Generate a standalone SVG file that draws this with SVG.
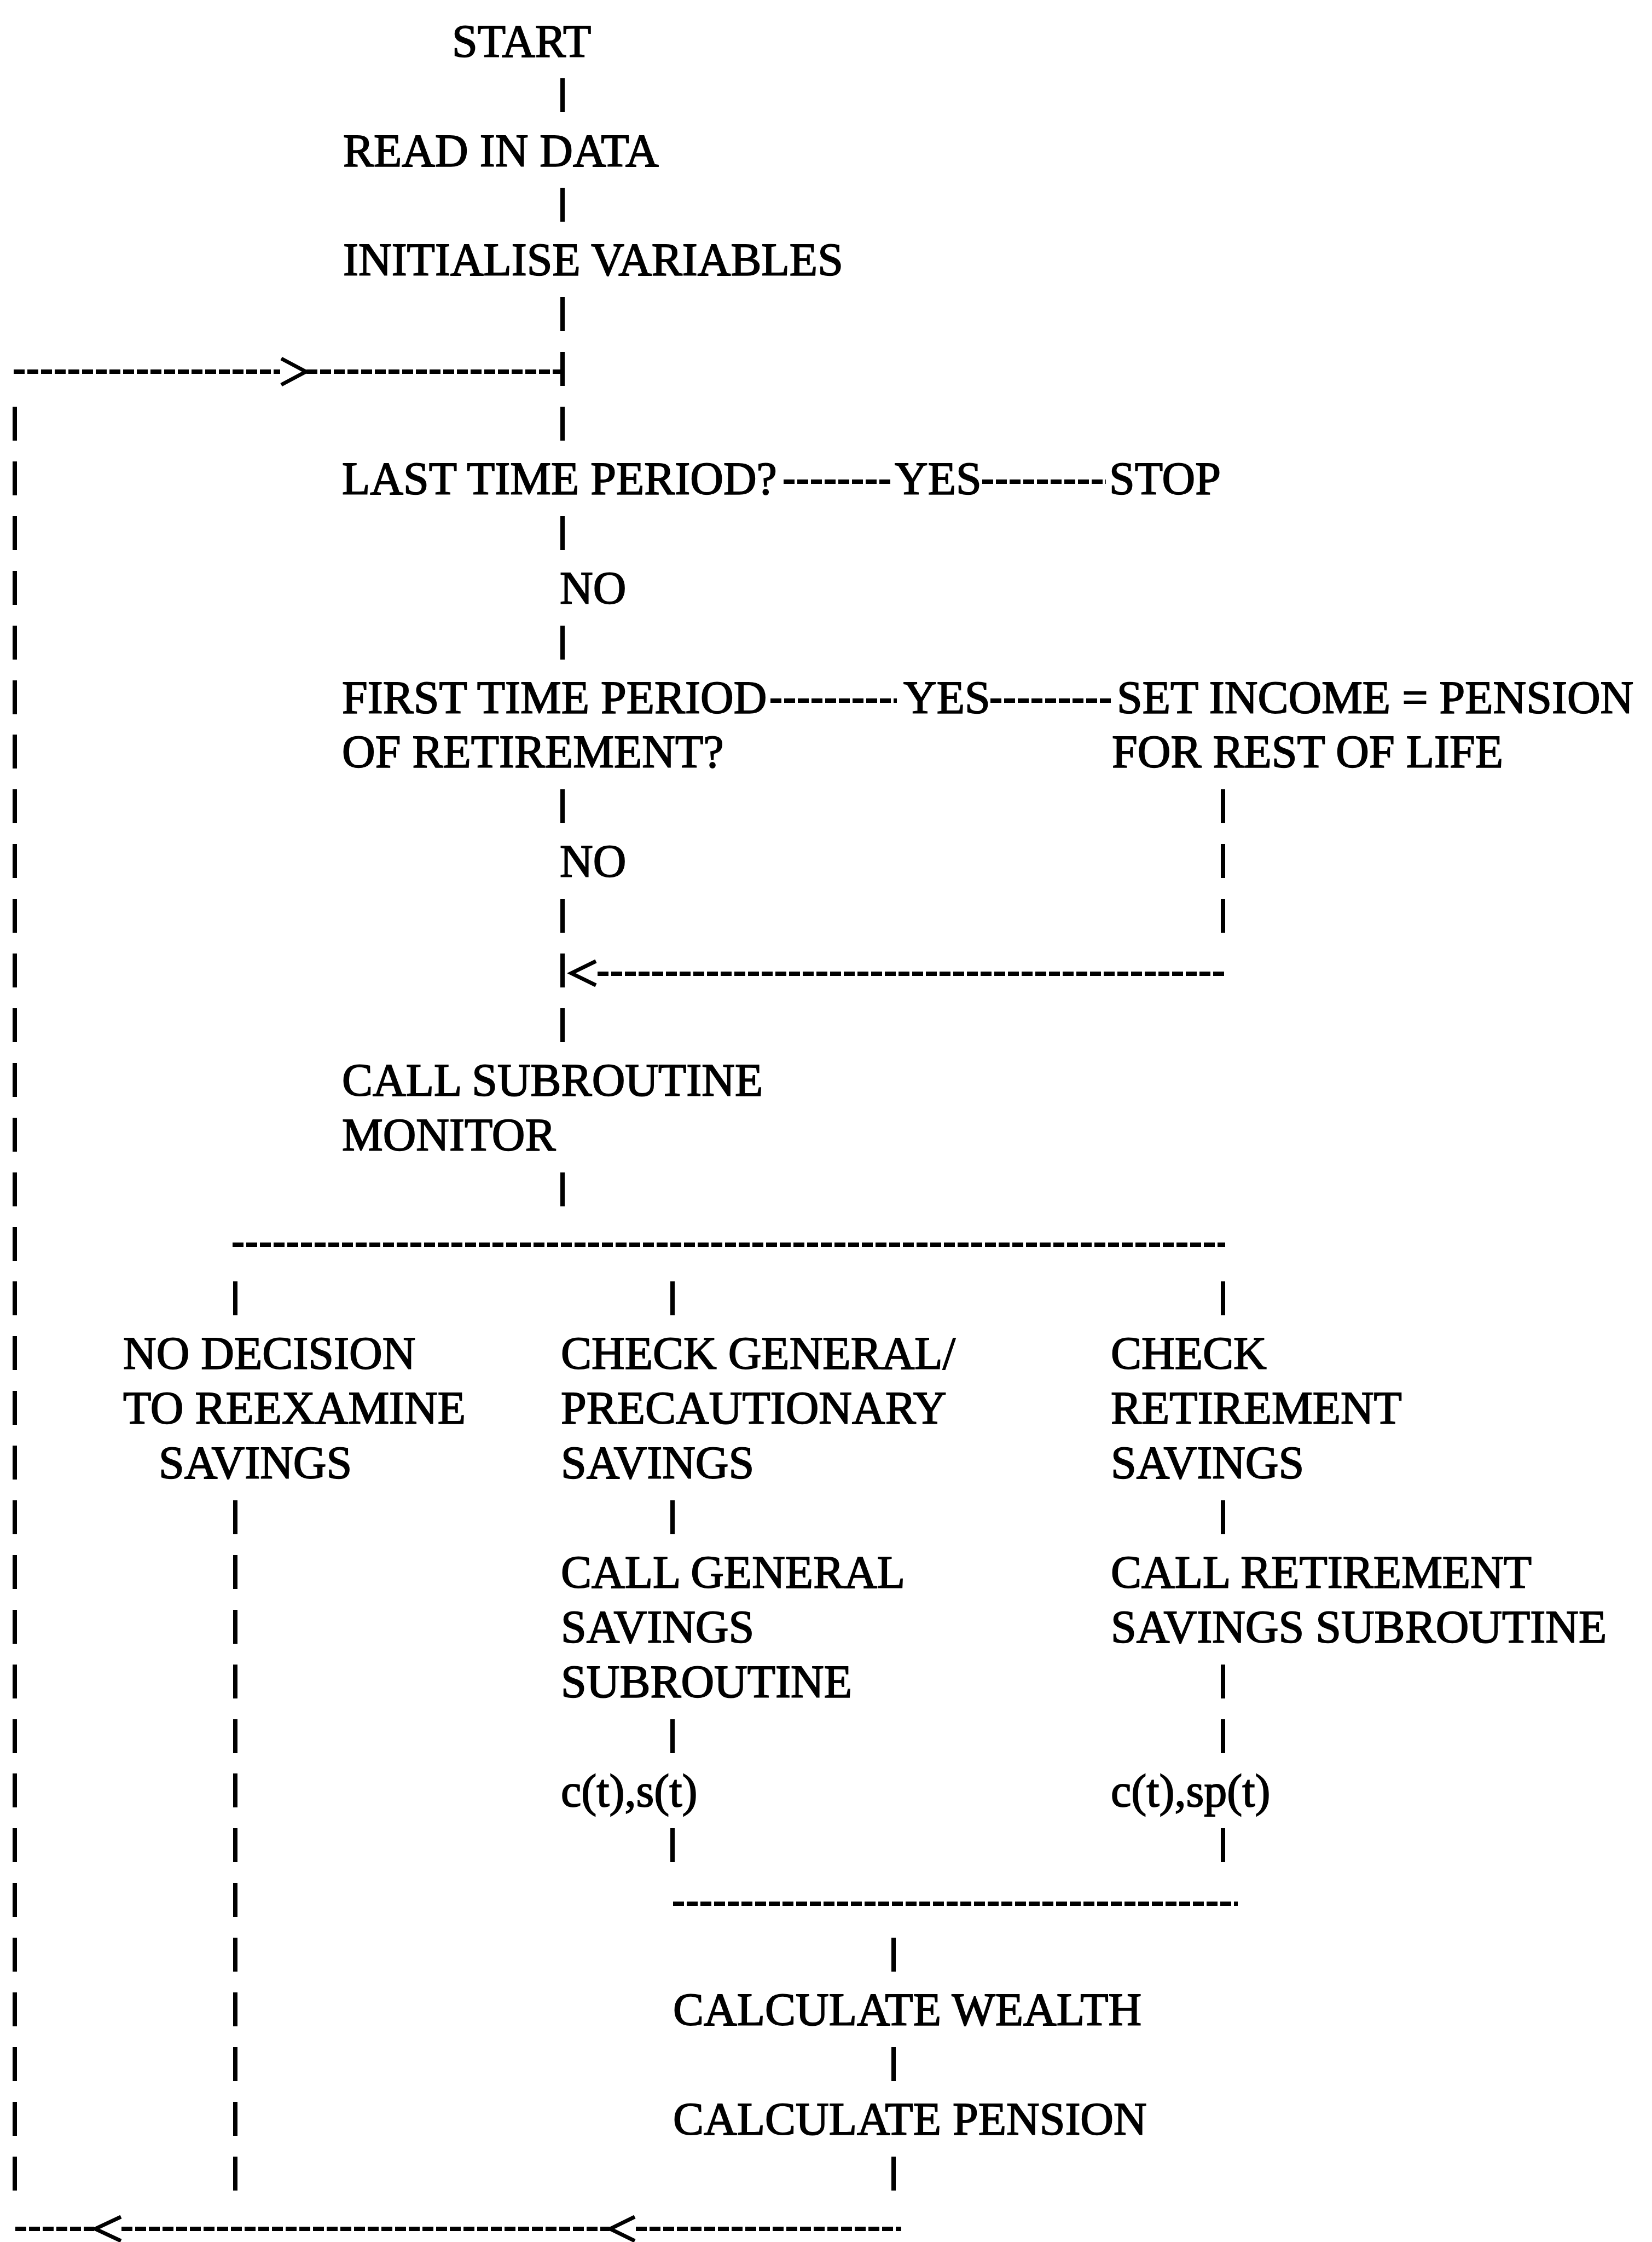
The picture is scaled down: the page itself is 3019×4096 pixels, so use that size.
<svg xmlns="http://www.w3.org/2000/svg" width="3019" height="4096" viewBox="0 0 3019 4096">
<style>
text{font-family:"Liberation Serif","Times New Roman",serif;font-size:84px;fill:#000;stroke:#000;stroke-width:1.8}
.bar{stroke:#000;stroke-width:8;fill:none}
.dash{stroke:#000;stroke-width:8;stroke-dasharray:20 5;fill:none}
.head{stroke:#000;stroke-width:7;fill:none;stroke-linejoin:miter}
</style>
<rect width="3019" height="4096" fill="#fff"/>
<g id="connectors">
<path class="bar" d="M1028 143v62M1028 343v62M1028 543v62M1028 643v62M1028 743v62M1028 943v62M1028 1143v62M1028 1442v62M1028 1642v62M1028 1742v62M1028 1842v62M1028 2142v62"/>
<path class="bar" d="M2235 1442v62M2235 1542v62M2235 1642v62"/>
<path class="bar" d="M27 743v62M27 843v62M27 943v62M27 1043v62M27 1143v62M27 1243v62M27 1342v62M27 1442v62M27 1542v62M27 1642v62M27 1742v62M27 1842v62M27 1942v62M27 2042v62M27 2142v62M27 2242v62M27 2341v62M27 2441v62M27 2541v62M27 2641v62M27 2741v62M27 2841v62M27 2941v62M27 3041v62M27 3141v62M27 3240v62M27 3340v62M27 3440v62M27 3540v62M27 3640v62M27 3740v62M27 3840v62M27 3940v62"/>
<path class="bar" d="M430 2341v62M430 2741v62M430 2841v62M430 2941v62M430 3041v62M430 3141v62M430 3240v62M430 3340v62M430 3440v62M430 3540v62M430 3640v62M430 3740v62M430 3840v62M430 3940v62"/>
<path class="bar" d="M1229 2341v62M1229 2741v62M1229 3141v62M1229 3340v62"/>
<path class="bar" d="M2235 2341v62M2235 2741v62M2235 3041v62M2235 3141v62M2235 3340v62"/>
<path class="bar" d="M1633 3540v62M1633 3740v62M1633 3940v62"/>
<path class="dash" d="M25 679H512M560 679H1024"/>
<polyline class="head" points="514,655 559,679 514,703"/>
<path class="dash" d="M1432 880H1629M1795 880H2021"/>
<path class="dash" d="M1408 1280H1639M1810 1280H2034"/>
<polyline class="head" points="1089,1756 1044,1778 1089,1800"/>
<path class="dash" d="M1092 1779H2239"/>
<path class="dash" d="M425 2274H2239"/>
<path class="dash" d="M1230 3478H2262"/>
<path class="dash" d="M28 4072H172M222 4072H1114M1162 4072H1647"/>
<polyline class="head" points="221,4050 174,4072 221,4094"/>
<polyline class="head" points="1160,4050 1115,4072 1160,4094"/>
</g>
<g id="start"><text x="826" y="104">START</text></g>
<g id="read-data"><text x="627" y="304">READ IN DATA</text></g>
<g id="init-vars"><text x="627" y="503">INITIALISE VARIABLES</text></g>
<g id="last-period"><text x="625" y="903">LAST TIME PERIOD?</text></g>
<g id="yes1"><text x="1635" y="903">YES</text></g>
<g id="stop"><text x="2027" y="903">STOP</text></g>
<g id="no1"><text x="1023" y="1103">NO</text></g>
<g id="first-period"><text x="625" y="1303">FIRST TIME PERIOD</text><text x="625" y="1402">OF RETIREMENT?</text></g>
<g id="yes2"><text x="1651" y="1303">YES</text></g>
<g id="set-income"><text x="2041" y="1303">SET INCOME = PENSION</text><text x="2032" y="1402">FOR REST OF LIFE</text></g>
<g id="no2"><text x="1023" y="1602">NO</text></g>
<g id="monitor"><text x="625" y="2002">CALL SUBROUTINE</text><text x="625" y="2102">MONITOR</text></g>
<g id="no-decision"><text x="225" y="2501">NO DECISION</text><text x="225" y="2601">TO REEXAMINE</text><text x="290" y="2701">SAVINGS</text></g>
<g id="check-general"><text x="1025" y="2501">CHECK GENERAL/</text><text x="1025" y="2601">PRECAUTIONARY</text><text x="1025" y="2701">SAVINGS</text></g>
<g id="check-retirement"><text x="2030" y="2501">CHECK</text><text x="2030" y="2601">RETIREMENT</text><text x="2030" y="2701">SAVINGS</text></g>
<g id="call-general"><text x="1025" y="2901">CALL GENERAL</text><text x="1025" y="3001">SAVINGS</text><text x="1025" y="3101">SUBROUTINE</text></g>
<g id="call-retirement"><text x="2030" y="2901">CALL RETIREMENT</text><text x="2030" y="3001">SAVINGS SUBROUTINE</text></g>
<g id="cs"><text x="1025" y="3300">c(t),s(t)</text></g>
<g id="csp"><text x="2030" y="3300">c(t),sp(t)</text></g>
<g id="wealth"><text x="1230" y="3700">CALCULATE WEALTH</text></g>
<g id="pension"><text x="1230" y="3900">CALCULATE PENSION</text></g>
</svg>
